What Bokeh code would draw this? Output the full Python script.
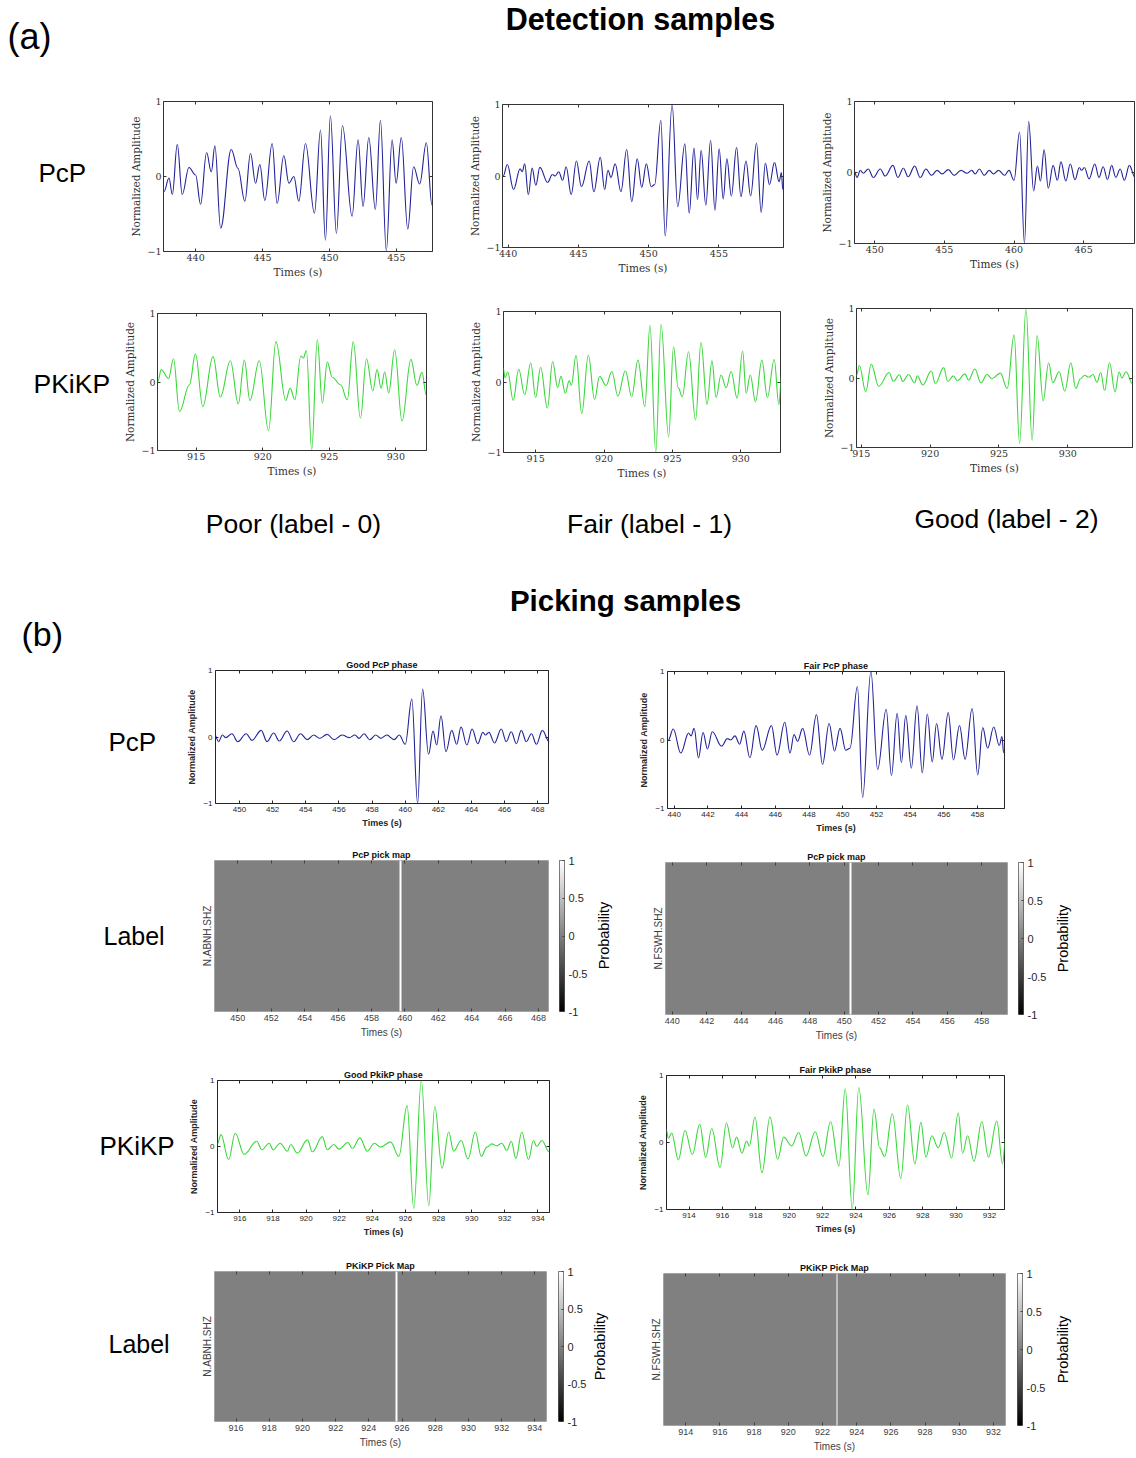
import numpy as np
from bokeh.plotting import figure
from bokeh.layouts import row, column
from bokeh.models import Range1d, LinearAxis, FixedTicker, LinearColorMapper
from bokeh.core.properties import value
from bokeh.embed import file_html
from bokeh.resources import INLINE

# ---------------- waveform data: extrema of each trace (time s, normalized amplitude) ----------------
pcp_poor_t = [437.64, 438.01, 438.26, 438.63, 439.00, 439.50, 440.00, 440.37, 440.82, 441.17,
              441.44, 441.87, 442.66, 443.16, 443.68, 444.10, 444.48, 444.80, 445.17, 445.72,
              446.09, 446.59, 446.97, 447.34, 447.71, 448.21, 448.88, 449.33, 449.70, 450.07,
              450.52, 450.97, 451.69, 452.14, 452.51, 452.94, 453.43, 453.81, 454.25, 454.68,
              454.98, 455.37, 455.85, 456.29, 456.74, 457.24, 457.66]
pcp_poor_a = [-0.20, -0.02, -0.24, 0.43, -0.24, 0.12, 0.02, -0.37, 0.32, 0.06,
              0.41, -0.69, 0.36, 0.11, -0.33, 0.31, -0.09, 0.16, -0.32, 0.44,
              -0.36, 0.28, -0.09, 0.00, -0.33, 0.44, -0.49, 0.62, -0.85, 0.81,
              -0.76, 0.68, -0.53, 0.49, -0.40, 0.52, -0.44, 0.75, -0.99, 0.49,
              -0.09, 0.52, -0.70, 0.13, -0.10, 0.45, -0.38]

pcp_fair_t = [439.65, 439.94, 440.39, 440.85, 441.00, 441.18, 441.44, 441.71, 441.97, 442.26,
              442.81, 443.15, 443.35, 443.60, 443.88, 444.13, 444.49, 444.86, 445.22, 445.77,
              446.10, 446.56, 446.87, 447.11, 447.32, 447.62, 448.03, 448.44, 448.80, 449.19,
              449.51, 449.84, 450.18, 450.43, 450.87, 451.18, 451.67, 452.07, 452.58, 452.89,
              453.23, 453.48, 453.74, 454.07, 454.41, 454.72, 455.02, 455.31, 455.57, 455.89,
              456.26, 456.57, 456.93, 457.26, 457.68, 458.01, 458.31, 458.60, 458.96, 459.29,
              459.45, 459.55]
pcp_fair_a = [0.00, 0.16, -0.19, 0.10, 0.06, 0.17, -0.26, 0.11, -0.13, 0.12,
              -0.09, 0.02, 0.00, 0.06, -0.06, 0.13, -0.26, 0.21, -0.15, 0.21,
              -0.22, 0.26, -0.19, 0.08, -0.02, 0.17, -0.22, 0.37, -0.36, 0.24,
              -0.16, 0.17, -0.15, -0.12, 0.78, -0.84, 1.00, -0.43, 0.45, -0.52,
              0.39, -0.33, 0.36, -0.41, 0.50, -0.48, 0.38, -0.32, 0.24, -0.28,
              0.40, -0.29, 0.21, -0.28, 0.46, -0.51, 0.18, -0.12, 0.19, -0.08,
              0.05, -0.19]

pcp_good_t = [448.53, 448.73, 448.97, 449.17, 449.54, 449.90, 450.40, 450.75, 451.31, 451.66,
              452.06, 452.40, 452.87, 453.27, 453.68, 454.08, 454.48, 454.83, 455.29, 455.70,
              456.20, 456.61, 456.97, 457.21, 457.52, 457.86, 458.22, 458.53, 458.89, 459.33,
              459.64, 460.00, 460.40, 460.75, 461.05, 461.41, 461.68, 461.90, 462.16, 462.46,
              462.81, 463.11, 463.37, 463.72, 464.04, 464.38, 464.69, 464.85, 465.05, 465.39,
              465.80, 466.10, 466.40, 466.71, 467.01, 467.31, 467.62, 467.92, 468.28, 468.69]
pcp_good_a = [0.02, -0.07, 0.03, -0.01, 0.05, -0.07, 0.05, -0.05, 0.10, -0.07,
              0.06, -0.06, 0.09, -0.07, 0.05, -0.04, 0.03, -0.02, 0.04, -0.04,
              0.03, -0.01, 0.03, -0.02, 0.05, -0.04, 0.03, -0.02, 0.03, -0.04,
              0.03, -0.11, 0.57, -1.00, 0.72, -0.26, 0.09, -0.12, 0.32, -0.22,
              0.10, -0.11, 0.15, -0.12, 0.12, -0.10, 0.07, 0.03, 0.07, -0.09,
              0.12, -0.07, 0.08, -0.10, 0.10, -0.07, 0.05, -0.11, 0.10, -0.07]

pkikp_poor_t = [912.13, 912.38, 912.93, 913.30, 913.75, 914.50, 914.95, 915.50, 916.27, 916.82,
                917.57, 918.17, 918.62, 919.04, 919.74, 920.44, 920.99, 921.73, 922.06, 922.41,
                922.86, 923.05, 923.28, 923.68, 924.10, 924.48, 924.85, 925.22, 925.85, 926.35,
                926.80, 927.34, 927.79, 928.27, 928.59, 928.89, 929.16, 929.46, 929.91, 930.46,
                931.13, 931.58, 931.96, 932.28]
pkikp_poor_a = [0.01, 0.18, 0.05, 0.34, -0.43, -0.04, 0.41, -0.36, 0.37, -0.22,
                0.31, -0.32, 0.32, -0.27, 0.31, -0.71, 0.59, -0.27, -0.09, -0.26,
                0.38, 0.35, 0.46, -0.99, 0.62, -0.31, 0.29, 0.07, -0.04, -0.26,
                0.59, -0.53, 0.34, -0.13, 0.18, -0.09, 0.15, -0.16, 0.47, -0.57,
                0.33, -0.05, 0.14, -0.19]

pkikp_fair_t = [912.64, 912.76, 912.96, 913.36, 913.76, 914.20, 914.64, 915.00, 915.36, 915.86,
                916.24, 916.61, 916.85, 917.17, 917.45, 917.61, 917.95, 918.37, 918.85, 919.31,
                919.67, 920.15, 920.57, 921.01, 921.56, 922.02, 922.48, 922.98, 923.36, 923.78,
                924.17, 924.72, 925.08, 925.42, 925.72, 926.18, 926.69, 927.09, 927.53, 927.89,
                928.19, 928.55, 928.93, 929.29, 929.73, 930.13, 930.39, 930.69, 931.07, 931.54,
                931.94, 932.44, 932.78, 933.00]
pkikp_fair_a = [0.19, 0.06, 0.14, -0.26, 0.18, -0.18, 0.27, -0.22, 0.21, -0.37,
                0.29, -0.08, 0.08, -0.16, 0.02, -0.05, 0.38, -0.45, 0.38, -0.25,
                0.08, -0.05, 0.15, -0.20, 0.16, -0.21, 0.31, -0.35, 0.80, -1.00,
                0.82, -0.78, 0.50, -0.08, -0.21, 0.43, -0.54, 0.56, -0.32, 0.30,
                -0.22, 0.10, -0.08, 0.15, -0.23, 0.44, -0.16, 0.10, -0.28, 0.31,
                -0.22, 0.32, -0.32, 0.13]

pkikp_good_t = [914.65, 914.86, 915.32, 915.72, 916.26, 917.02, 917.33, 917.77, 918.01, 918.43,
                918.87, 919.07, 919.47, 920.08, 920.38, 920.98, 921.28, 921.68, 921.98, 922.53,
                922.79, 923.25, 923.69, 924.13, 924.49, 925.10, 925.60, 926.10, 926.50, 926.96,
                927.41, 927.77, 928.21, 928.61, 928.91, 929.37, 929.78, 930.22, 930.58, 930.92,
                931.22, 931.52, 931.82, 932.12, 932.39, 932.67, 933.03, 933.43, 933.73, 933.93,
                934.23, 934.69]
pkikp_good_a = [0.04, 0.18, -0.20, 0.20, -0.12, 0.08, -0.05, 0.05, -0.05, 0.05,
                -0.07, 0.03, -0.10, 0.10, -0.08, 0.15, -0.05, 0.03, -0.04, 0.06,
                -0.03, 0.13, -0.07, 0.05, -0.01, 0.07, -0.15, 0.62, -0.94, 1.00,
                -0.90, 0.61, -0.33, 0.22, -0.07, 0.09, -0.19, 0.22, -0.15, -0.01,
                0.04, 0.01, 0.05, -0.06, 0.08, -0.18, 0.22, -0.20, 0.09, 0.00,
                0.09, -0.08]

# manual picks (s) used for the label maps
pcp_good_pick = 459.8
pcp_fair_pick = 450.4
pkikp_good_pick = 925.65
pkikp_fair_pick = 922.9

# time windows and tick marks
pcp_poor_win, pcp_fair_win, pcp_good_win = (437.6, 457.7), (439.6, 459.6), (448.55, 468.65)
pkikp_poor_win, pkikp_fair_win, pkikp_good_win = (912.1, 932.3), (912.65, 932.9), (914.65, 934.7)
pcp_ticks_a = [440, 445, 450, 455]
pcp_good_ticks_a = [450, 455, 460, 465]
pkikp_ticks_a = [915, 920, 925, 930]
pcp_fair_ticks_b = list(range(440, 459, 2))
pcp_good_ticks_b = list(range(450, 469, 2))
pkikp_good_ticks_b = list(range(916, 935, 2))
pkikp_fair_ticks_b = list(range(914, 933, 2))
prob_ticks = [-1, -0.5, 0, 0.5, 1]

BLUE = "#22229a"
GREEN = "#3bd83b"
GRAY_PALETTE = ["#%02x%02x%02x" % (i, i, i) for i in range(256)]
GRAY_MAP = LinearColorMapper(palette=GRAY_PALETTE, low=-1, high=1)

LOOK_A = dict(font="DejaVu Serif", tick="9.5px", label="10.5px", label_style="normal",
              color="#333333", frame="#333333", standoff=2)
LOOK_B = dict(font="Liberation Sans", tick="8px", label="9px", label_style="bold",
              color="#262626", frame="#262626", standoff=3)
LOOK_MAP = dict(font="Liberation Sans", tick="9px", label="10px", label_style="normal",
                color="#404040", frame="#b0b0b0", standoff=3)
SANS = "Liberation Sans"


def free_frame(p):
    # keep each panel's own frame position inside rows
    if "frame_align" in p.properties():
        p.frame_align = False


def style_axis(ax, look):
    ax.axis_line_color = None
    ax.major_tick_in = 3
    ax.major_tick_out = 0
    ax.major_tick_line_color = look["color"]
    ax.minor_tick_line_color = None
    ax.major_label_text_font = look["font"]
    ax.major_label_text_font_size = look["tick"]
    ax.major_label_text_color = look["color"]
    ax.major_label_standoff = look["standoff"]
    ax.axis_label_text_font = look["font"]
    ax.axis_label_text_font_size = look["label"]
    ax.axis_label_text_font_style = look["label_style"]
    ax.axis_label_text_color = look["color"]
    ax.axis_label_standoff = look["standoff"]


def tick_axis(ticks, look):
    # tick marks only (box-style axes), no labels drawn
    return LinearAxis(ticker=FixedTicker(ticks=ticks), major_label_text_font_size="0px",
                      major_label_text_color=None, major_label_standoff=0,
                      axis_line_color=None, major_tick_in=3, major_tick_out=0,
                      minor_tick_line_color=None, major_tick_line_color=look["color"])


def base_fig(w, h, bl, br, bt, bb, xr, yr, title=None, **extra):
    kw = dict(width=w, height=h, x_range=Range1d(*xr), y_range=Range1d(*yr),
              output_backend="svg", toolbar_location=None,
              min_border_left=bl, min_border_right=br, min_border_top=bt, min_border_bottom=bb)
    kw.update(extra)
    if title:
        kw["title"] = title
    p = figure(**kw)
    free_frame(p)
    p.grid.visible = False
    if title:
        p.title.align = "center"
        p.title.text_font = SANS
        p.title.text_font_size = "9px"
        p.title.text_font_style = "bold"
        p.title.text_color = "#111111"
        p.title.standoff = 2
        p.title.offset = 0
    return p


def wave_panel(t, a, color, win, xticks, w, h, bl, br, bt, bb, look, title=None):
    p = base_fig(w, h, bl, br, bt, bb, win, (-1, 1), title)
    p.outline_line_color = look["frame"]
    xa, ya = p.xaxis[0], p.yaxis[0]
    xa.ticker = FixedTicker(ticks=xticks)
    ya.ticker = FixedTicker(ticks=[-1, 0, 1])
    xa.axis_label = "Times (s)"
    ya.axis_label = "Normalized Amplitude"
    style_axis(xa, look)
    style_axis(ya, look)
    p.add_layout(tick_axis(xticks, look), "above")
    p.add_layout(tick_axis([-1, 0, 1], look), "right")
    t = np.asarray(t, float)
    a = np.asarray(a, float)
    dt = np.diff(t)
    # smooth half-cycles between successive extrema
    p.bezier(x0=t[:-1], y0=a[:-1], x1=t[1:], y1=a[1:],
             cx0=t[:-1] + 0.38 * dt, cy0=a[:-1], cx1=t[1:] - 0.38 * dt, cy1=a[1:],
             line_color=color, line_width=1.1)
    return p


def map_panel(pick, win, xticks, station, title, w, h, bl, br, bt, bb):
    p = base_fig(w, h, bl, br, bt, bb, win, (0, 1), title)
    p.outline_line_color = LOOK_MAP["frame"]
    step = 0.1
    ncol = int(round((win[1] - win[0]) / step))
    centers = win[0] + step * (np.arange(ncol) + 0.5)
    prob = np.zeros((1, ncol))
    prob[0, int(np.argmin(np.abs(centers - pick)))] = 1.0
    p.image(image=[prob], x=win[0], y=0, dw=win[1] - win[0], dh=1, color_mapper=GRAY_MAP)
    xa, ya = p.xaxis[0], p.yaxis[0]
    xa.ticker = FixedTicker(ticks=xticks)
    xa.axis_label = "Times (s)"
    style_axis(xa, LOOK_MAP)
    style_axis(ya, LOOK_MAP)
    ya.ticker = FixedTicker(ticks=[])
    ya.major_tick_line_color = None
    ya.axis_label = station
    ya.axis_label_standoff = 2
    p.add_layout(tick_axis(xticks, LOOK_MAP), "above")
    return p


def cbar_panel(w, h, bl, br, bt, bb):
    p = base_fig(w, h, bl, br, bt, bb, (0, 1), (-1, 1), x_axis_type=None, y_axis_location="right")
    p.outline_line_color = "#555555"
    levels = np.linspace(-1, 1, 256).reshape(-1, 1)
    p.image(image=[levels], x=0, y=-1, dw=1, dh=2, color_mapper=GRAY_MAP)
    ya = p.yaxis[0]
    style_axis(ya, LOOK_MAP)
    ya.ticker = FixedTicker(ticks=prob_ticks)
    ya.major_label_overrides = {-1: "-1", -0.5: "-0.5", 0: "0", 0.5: "0.5", 1: "1"}
    ya.major_label_text_font_size = "11px"
    ya.major_label_text_color = "#262626"
    ya.major_tick_in = 2
    ya.major_label_standoff = 4
    return p


def text_fig(w, h, items):
    p = figure(width=w, height=h, x_range=Range1d(0, w), y_range=Range1d(0, h),
               output_backend="svg", toolbar_location=None, x_axis_type=None, y_axis_type=None,
               min_border=0)
    free_frame(p)
    p.grid.visible = False
    p.outline_line_color = None
    for x, y, txt, size, style, align, angle in items:
        p.text(x=[x], y=[h - y], text=[txt], text_font=value(SANS), text_font_size=size,
               text_font_style=style, text_align=align, text_baseline="middle",
               angle=angle, text_color="#000000")
    return p


# ---------------- (a) detection samples ----------------
header_a = text_fig(1136, 90, [
    (7, 36, "(a)", "36px", "normal", "left", 0),
    (640, 18, "Detection samples", "30.5px", "bold", "center", 0),
])

row_pcp_a = row(
    text_fig(127, 200, [(38, 82, "PcP", "26px", "normal", "left", 0)]),
    wave_panel(pcp_poor_t, pcp_poor_a, BLUE, pcp_poor_win, pcp_ticks_a, 339, 200, 33, 34, 11, 39, LOOK_A),
    wave_panel(pcp_fair_t, pcp_fair_a, BLUE, pcp_fair_win, pcp_ticks_a, 352, 200, 32, 35, 14, 43, LOOK_A),
    wave_panel(pcp_good_t, pcp_good_a, BLUE, pcp_good_win, pcp_good_ticks_a, 318, 200, 34, 2, 11, 47, LOOK_A),
)

row_pkikp_a = row(
    text_fig(121, 200, [(33, 93, "PKiKP", "26.5px", "normal", "left", 0)]),
    wave_panel(pkikp_poor_t, pkikp_poor_a, GREEN, pkikp_poor_win, pkikp_ticks_a, 346, 200, 27, 41, 23, 40, LOOK_A),
    wave_panel(pkikp_fair_t, pkikp_fair_a, GREEN, pkikp_fair_win, pkikp_ticks_a, 353, 200, 33, 40, 21, 38, LOOK_A),
    wave_panel(pkikp_good_t, pkikp_good_a, GREEN, pkikp_good_win, pkikp_ticks_a, 316, 200, 36, 4, 18, 43, LOOK_A),
)

middle = text_fig(1136, 165, [
    (293, 33, "Poor (label - 0)", "26.5px", "normal", "center", 0),
    (649, 33, "Fair (label - 1)", "26.5px", "normal", "center", 0),
    (1006, 28, "Good (label - 2)", "26.5px", "normal", "center", 0),
    (625, 110, "Picking samples", "29.5px", "bold", "center", 0),
    (21, 143, "(b)", "34px", "normal", "left", 0),
])

# ---------------- (b) picking samples ----------------
row_pcp_b = row(
    text_fig(180, 190, [(108, 86, "PcP", "26px", "normal", "left", 0)]),
    wave_panel(pcp_good_t, pcp_good_a, BLUE, pcp_good_win, pcp_good_ticks_b, 440, 190, 35, 72, 15, 42,
               LOOK_B, "Good PcP phase"),
    wave_panel(pcp_fair_t, pcp_fair_a, BLUE, pcp_fair_win, pcp_fair_ticks_b, 516, 190, 47, 132, 16, 37,
               LOOK_B, "Fair PcP phase"),
)

row_pcp_map = row(
    text_fig(180, 210, [(103, 90, "Label", "25px", "normal", "left", 0)]),
    map_panel(pcp_good_pick, (448.6, 468.6), pcp_good_ticks_b, "N.ABNH.SHZ", "PcP pick map",
              372, 210, 34, 4, 15, 44),
    cbar_panel(38, 210, 7, 26, 15, 44),
    text_fig(30, 210, [(13, 90, "Probability", "14.5px", "normal", "center", np.pi / 2)]),
    map_panel(pcp_fair_pick, (439.6, 459.5), pcp_fair_ticks_b, "N.FSWH.SHZ", "PcP pick map",
              392, 210, 45, 5, 17, 41),
    cbar_panel(38, 210, 6, 27, 17, 41),
    text_fig(86, 210, [(12, 93, "Probability", "14.5px", "normal", "center", np.pi / 2)]),
)

row_pkikp_b = row(
    text_fig(180, 200, [(99, 90, "PKiKP", "26px", "normal", "left", 0)]),
    wave_panel(pkikp_good_t, pkikp_good_a, GREEN, pkikp_good_win, pkikp_good_ticks_b, 440, 200, 37, 71, 25, 43,
               LOOK_B, "Good PkikP phase"),
    wave_panel(pkikp_fair_t, pkikp_fair_a, GREEN, pkikp_fair_win, pkikp_fair_ticks_b, 516, 200, 46, 132, 20, 46,
               LOOK_B, "Fair PkikP phase"),
)

row_pkikp_map = row(
    text_fig(180, 203, [(108, 88, "Label", "25px", "normal", "left", 0)]),
    map_panel(pkikp_good_pick, (914.7, 934.7), pkikp_good_ticks_b, "N.ABNH.SHZ", "PKiKP Pick Map",
              372, 203, 34, 6, 16, 37),
    cbar_panel(38, 203, 6, 27, 16, 37),
    text_fig(30, 203, [(9, 91, "Probability", "14.5px", "normal", "center", np.pi / 2)]),
    map_panel(pkikp_fair_pick, (912.7, 932.7), pkikp_fair_ticks_b, "N.FSWH.SHZ", "PKiKP Pick Map",
              392, 203, 43, 7, 18, 33),
    cbar_panel(38, 203, 5, 28, 18, 33),
    text_fig(86, 203, [(12, 94, "Probability", "14.5px", "normal", "center", np.pi / 2)]),
)

page = column(header_a, row_pcp_a, row_pkikp_a, middle, row_pcp_b, row_pcp_map, row_pkikp_b, row_pkikp_map)

open("out.html", "w").write(file_html(page, INLINE, title="Detection and picking samples"))
